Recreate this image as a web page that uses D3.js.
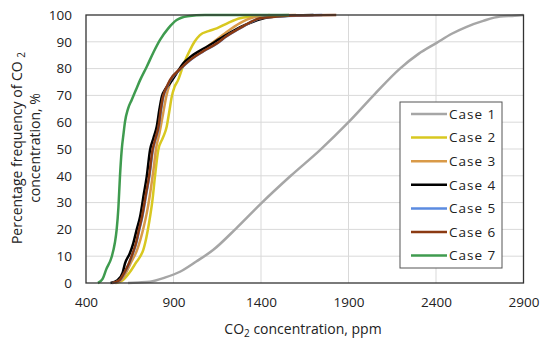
<!DOCTYPE html>
<html>
<head>
<meta charset="utf-8">
<script src="https://cdn.jsdelivr.net/npm/d3@7"></script>
<style>
  body { margin: 0; background: #fff; }
  svg text { font-family: "Open Sans", sans-serif; fill: #222; }
  .grid line { stroke: #d9d9d9; stroke-width: 1; }
  .axis path, .axis line { display: none; }
</style>
</head>
<body>
<div id="chart"></div>
<script>
const caseNames = ['Case 1', 'Case 2', 'Case 3', 'Case 4', 'Case 5', 'Case 6', 'Case 7']
const caseColors = ['#a6a6a6', '#d8c820', '#d99a48', '#000000', '#5b8be0', '#8b3a12', '#3f9b4f']

const xTicks = [400, 900, 1400, 1900, 2400, 2900]
const yTicks = [0, 10, 20, 30, 40, 50, 60, 70, 80, 90, 100]

// [ppm, cumulative %]
const case1 = [[640,0],[700,0.2],[766,0.5],[850,2],[937,4.2],[1030,8],[1126,12.3],[1260,20.5],[1404,29.9],[1570,40],[1737,49.6],[1903,60.2],[2050,70.5],[2194,80],[2300,85.5],[2404,89.6],[2490,93],[2575,95.6],[2670,97.8],[2766,99.4],[2850,99.7],[2900,100]]
const case2 = [[570,0],[610,1],[650,4],[690,8],[709,9.8],[727,12.3],[745,17],[766,24.7],[780,31],[794,39.7],[813,49.6],[838,54],[861,58.3],[876,64],[890,69.5],[905,73],[926,75.7],[960,82],[994,86.9],[1020,90],[1051,92.5],[1100,94],[1147,95],[1210,97],[1280,98.8],[1354,99.4],[1450,100]]
const case3 = [[565,0],[600,1],[630,4],[660,8],[690,12],[710,16],[730,21],[750,27],[770,35],[785,42],[800,50],[820,56],[840,63],[860,70],[880,74.5],[920,78.5],[970,82],[1050,86],[1130,90],[1200,93.5],[1280,97],[1350,99],[1450,99.8],[1600,100]]
const case4 = [[540,0],[580,1],[610,4],[623,7.3],[650,11],[670,14.8],[690,20],[709,24.7],[730,33],[747,39.7],[766,49.6],[785,54],[804,58.3],[820,65],[833,69.5],[855,72.5],[880,74.5],[920,78.5],[956,82],[1000,84.5],[1100,88.5],[1200,92.5],[1300,96],[1400,98.5],[1500,99.5],[1700,100]]
const case5 = [[552,0],[592,1],[622,4],[648,7.5],[668,11],[688,15],[705,20],[722,24.7],[744,33],[762,39.7],[782,49.6],[799,54],[816,58.3],[830,65],[842,69.5],[862,73],[882,75.7],[942,80],[996,83.2],[1072,86.5],[1149,89.4],[1202,92],[1263,94.4],[1332,97],[1396,98.8],[1492,99.4],[1750,100]]
const case6 = [[550,0],[590,1],[620,4],[646,7.5],[666,11],[686,15],[703,20],[720,24.7],[742,33],[760,39.7],[780,49.6],[797,54],[814,58.3],[828,65],[840,69.5],[860,73],[880,75.7],[940,80],[994,83.2],[1070,86.5],[1147,89.4],[1200,92],[1261,94.4],[1330,97],[1394,98.8],[1490,99.4],[1600,99.8],[1830,100]]
const case7 = [[468,0],[495,1.5],[515,5],[547,9.8],[565,15],[575,19.8],[585,28],[594,39.7],[604,49.6],[615,56],[623,60.2],[640,65],[661,68.3],[685,72],[709,75.7],[747,80.7],[785,86],[823,90.7],[870,95],[918,98.1],[980,99.5],[1080,100],[1560,100]]

const series = [case1, case2, case3, case4, case5, case6, case7]

const width = 550
const height = 345
const margin = { left: 86, right: 26.5, top: 15, bottom: 62 }

const svg = d3.select('#chart')
  .append('svg')
  .attr('width', width)
  .attr('height', height)

const x = d3.scaleLinear().domain([400, 2900]).range([margin.left, width - margin.right])
const y = d3.scaleLinear().domain([0, 100]).range([height - margin.bottom, margin.top])

// gridlines
svg.append('g').attr('class', 'grid')
  .selectAll('line.h').data(yTicks.slice(1, -1)).join('line')
    .attr('x1', x(400)).attr('x2', x(2900))
    .attr('y1', d => y(d)).attr('y2', d => y(d))
svg.select('.grid')
  .selectAll('line.v').data(xTicks.slice(1, -1)).join('line')
    .attr('y1', y(0)).attr('y2', y(100))
    .attr('x1', d => x(d)).attr('x2', d => x(d))

// axes (labels only)
svg.append('g').attr('class', 'axis')
  .attr('transform', `translate(0,${y(0)})`)
  .call(d3.axisBottom(x).tickValues(xTicks).tickFormat(d3.format('d')).tickSize(0).tickPadding(14))
  .selectAll('text').style('font-size', '13.5px').style('font-family', '"Open Sans", sans-serif').attr('fill', '#222')

svg.append('g').attr('class', 'axis')
  .attr('transform', `translate(${x(400)},0)`)
  .call(d3.axisLeft(y).tickValues(yTicks).tickSize(0).tickPadding(14))
  .selectAll('text').style('font-size', '13.5px').style('font-family', '"Open Sans", sans-serif').attr('fill', '#222')

// curves
const line = d3.line().x(d => x(d[0])).y(d => y(d[1])).curve(d3.curveMonotoneX)
svg.append('g')
  .selectAll('path').data(series).join('path')
    .attr('d', line)
    .attr('fill', 'none')
    .attr('stroke', (d, i) => caseColors[i])
    .attr('stroke-width', 2.5)
    .attr('stroke-linejoin', 'round')

// plot frame
svg.append('rect')
  .attr('x', x(400)).attr('y', y(100))
  .attr('width', x(2900) - x(400)).attr('height', y(0) - y(100))
  .attr('fill', 'none').attr('stroke', '#333').attr('stroke-width', 1.3)

// legend
const legend = svg.append('g').attr('transform', 'translate(400,102)')
legend.append('rect')
  .attr('width', 102).attr('height', 166)
  .attr('fill', '#fff').attr('stroke', '#555').attr('stroke-width', 1)
const item = legend.selectAll('g.item').data(caseNames).join('g')
  .attr('transform', (d, i) => `translate(0,${12 + i * 23.6})`)
item.append('line')
  .attr('x1', 11).attr('x2', 47)
  .attr('stroke', (d, i) => caseColors[i]).attr('stroke-width', 2.5)
item.append('text')
  .attr('x', 49).attr('dy', '0.35em')
  .style('font-size', '13.5px').style('letter-spacing', '1px')
  .text(d => d)

// axis titles
const xTitle = svg.append('text')
  .attr('x', 303).attr('y', 334)
  .attr('text-anchor', 'middle')
  .style('font-size', '14px')
xTitle.append('tspan').text('CO')
xTitle.append('tspan').text('2').style('font-size', '10px').attr('dy', 3)
xTitle.append('tspan').text(' concentration, ppm').attr('dy', -3)

const yTitle = svg.append('g').attr('transform', 'translate(0,148) rotate(-90)')
const yt1 = yTitle.append('text')
  .attr('x', 0).attr('y', 22)
  .attr('text-anchor', 'middle')
  .style('font-size', '14px')
yt1.append('tspan').text('Percentage frequency of CO ')
yt1.append('tspan').text('2').style('font-size', '10px').attr('dy', 3)
yTitle.append('text')
  .attr('x', 0).attr('y', 40)
  .attr('text-anchor', 'middle')
  .style('font-size', '14px')
  .text('concentration, %')
</script>
</body>
</html>
